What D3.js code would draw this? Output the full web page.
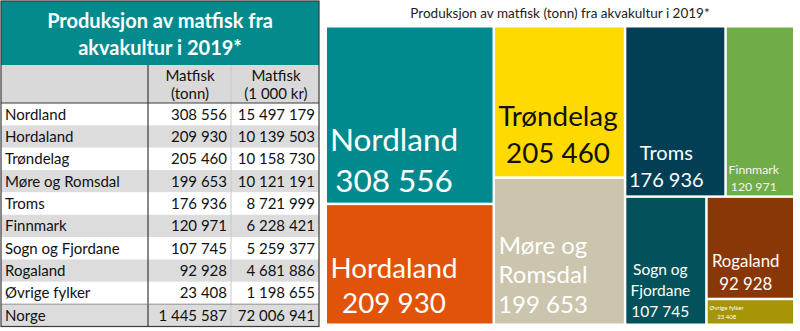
<!DOCTYPE html>
<html><head><meta charset="utf-8">
<script src="https://cdn.jsdelivr.net/npm/d3@7"></script>
<style>body{margin:0;background:#fff} svg{display:block}</style>
</head><body>
<svg id="chart" width="800" height="331"></svg>
<script>
// Fish-farming production by county, 2019
const regions = ["Nordland","Hordaland","Trøndelag","Møre og Romsdal","Troms","Finnmark","Sogn og Fjordane","Rogaland","Øvrige fylker"];
const tonnes = [308556,209930,205460,199653,176936,120971,107745,92928,23408];
const valueNOK = [15497179,10139503,10158730,10121191,8721999,6228421,5259377,4681886,1198655];
const totalLabel = "Norge";
const totalTonnes = 1445587;
const totalValue = 72006941;
const tableTitle = ["Produksjon av matfisk fra","akvakultur i 2019*"];
const columnHeads = [["Matfisk","(tonn)"],["Matfisk","(1 000 kr)"]];
const treemapTitle = "Produksjon av matfisk (tonn) fra akvakultur i 2019*";
const tileLines = [["Nordland"],["Hordaland"],["Trøndelag"],["Møre og","Romsdal"],["Troms"],["Finnmark"],["Sogn og","Fjordane"],["Rogaland"],["Øvrige fylker"]];

const tileColors = ["#008A8D","#E2530A","#FFDA00","#CBC5AD","#023F55","#70AC47","#03525B","#8A3708","#A69507"];
const tileText   = ["#fff","#fff","#111","#fff","#fff","#f4f4f4","#fff","#fff","#fff"];
// label block: font size, centre offset from tile left, last baseline above tile bottom, line step
const tileLabelStyle = [
  {size:31.5, dx:67, by:11, lh:41},
  {size:27.8, dx:67, by:11, lh:35},
  {size:27.8, dx:63, by:13, lh:37},
  {size:24,   dx:48, by:11, lh:29.5},
  {size:20,   dx:40, by:8,  lh:27},
  {size:12.3, dx:27, by:4,  lh:17},
  {size:15.5, dx:34, by:7,  lh:21},
  {size:16.8, dx:38, by:8,  lh:23},
  {size:6,    dx:19, by:5,  lh:9}
];

const FONT = "Lato, 'Open Sans', sans-serif";
const fmt = d3.formatLocale({decimal:",", thousands:" ", grouping:[3], currency:["",""]}).format(",d");
const svg = d3.select("#chart");

/* ---------- table ---------- */
const T = {x0:1, x1:319, titleY0:1, titleY1:65, headY1:103, bodyY1:326.5, col1:148, col2:231};
const rows = regions.map((r,i)=>({name:r, t:tonnes[i], v:valueNOK[i]}));
rows.push({name:totalLabel, t:totalTonnes, v:totalValue, total:true});
const y = d3.scaleBand().domain(d3.range(rows.length)).range([T.headY1, T.bodyY1]);

const tbl = svg.append("g");
tbl.append("rect").attr("x",T.x0).attr("y",T.titleY0).attr("width",T.x1-T.x0).attr("height",T.titleY1-T.titleY0).attr("fill","#038A8D");
tbl.selectAll(".tt").data(tableTitle).join("text")
  .attr("x",(T.x0+T.x1)/2).attr("y",(d,i)=>28+i*27)
  .attr("text-anchor","middle").attr("fill","#fff")
  .style("font",`bold 20px ${FONT}`).text(d=>d);
tbl.append("rect").attr("x",T.x0).attr("y",T.titleY1).attr("width",T.x1-T.x0).attr("height",T.headY1-T.titleY1).attr("fill","#D9D9D9");

tbl.selectAll(".row").data(rows).join("rect")
  .attr("x",T.x0).attr("y",(d,i)=>y(i)).attr("width",T.x1-T.x0).attr("height",y.bandwidth())
  .attr("fill",(d,i)=>i%2 ? "#DCDCDC" : "#fff");

const colCentres = [190, 276];
columnHeads.forEach((h,c)=>{
  tbl.selectAll(null).data(h).join("text")
    .attr("x",colCentres[c]).attr("y",(d,i)=>81+i*18)
    .attr("text-anchor","middle").attr("fill","#111")
    .style("font",`15px ${FONT}`).text(d=>d);
});

const rowText = tbl.selectAll(".rt").data(rows).join("g")
  .attr("transform",(d,i)=>`translate(0,${y(i)+y.bandwidth()/2+5.5})`)
  .style("font",`15px ${FONT}`).attr("fill","#111");
rowText.append("text").attr("x",5).text(d=>d.name);
rowText.append("text").attr("x",227).attr("text-anchor","end").text(d=>fmt(d.t));
rowText.append("text").attr("x",315).attr("text-anchor","end").text(d=>fmt(d.v));

// grid lines
tbl.append("line").attr("x1",T.col2).attr("x2",T.col2).attr("y1",T.titleY1).attr("y2",T.bodyY1).attr("stroke","#c8c8c8").attr("stroke-width",1);
tbl.append("line").attr("x1",T.col1).attr("x2",T.col1).attr("y1",T.titleY1).attr("y2",T.bodyY1).attr("stroke","#3a3a3a").attr("stroke-width",1.2);
tbl.append("line").attr("x1",T.x0).attr("x2",T.x1).attr("y1",T.headY1).attr("y2",T.headY1).attr("stroke","#3a3a3a").attr("stroke-width",1.2);
tbl.append("line").attr("x1",T.x0).attr("x2",T.x1).attr("y1",y(rows.length-1)).attr("y2",y(rows.length-1)).attr("stroke","#777").attr("stroke-width",0.8);
tbl.append("rect").attr("x",T.x0).attr("y",T.titleY0).attr("width",T.x1-T.x0).attr("height",T.bodyY1-T.titleY0)
  .attr("fill","none").attr("stroke","#3a3a3a").attr("stroke-width",1.2);

/* ---------- treemap ---------- */
const M = {x:327, y:27.5, w:466, h:296};
svg.append("text").attr("x",M.x+M.w/2).attr("y",18).attr("text-anchor","middle")
  .attr("fill","#222").style("font",`13.5px ${FONT}`).text(treemapTitle);

const root = d3.hierarchy({children: regions.map((r,i)=>({i, name:r, value:tonnes[i]}))})
  .sum(d=>d.value || 0);
d3.treemap().size([M.w, M.h]).paddingInner(2.5).tile(d3.treemapSquarify.ratio(1.25))(root);

const tiles = svg.append("g").attr("transform",`translate(${M.x},${M.y})`)
  .selectAll("g").data(root.leaves()).join("g");
tiles.append("rect")
  .attr("x",d=>d.x0).attr("y",d=>d.y0)
  .attr("width",d=>d.x1-d.x0).attr("height",d=>d.y1-d.y0)
  .attr("fill",d=>tileColors[d.data.i]);
tiles.each(function(d){
  const s = tileLabelStyle[d.data.i];
  const lines = tileLines[d.data.i].concat([fmt(d.data.value)]);
  const n = lines.length;
  d3.select(this).selectAll("text").data(lines).join("text")
    .attr("x", d.x0 + s.dx)
    .attr("y", (t,k)=> d.y1 - s.by - (n-1-k)*s.lh)
    .attr("text-anchor","middle")
    .attr("fill", tileText[d.data.i])
    .style("font", `${s.size}px ${FONT}`)
    .text(t=>t);
});
</script>
</body></html>
